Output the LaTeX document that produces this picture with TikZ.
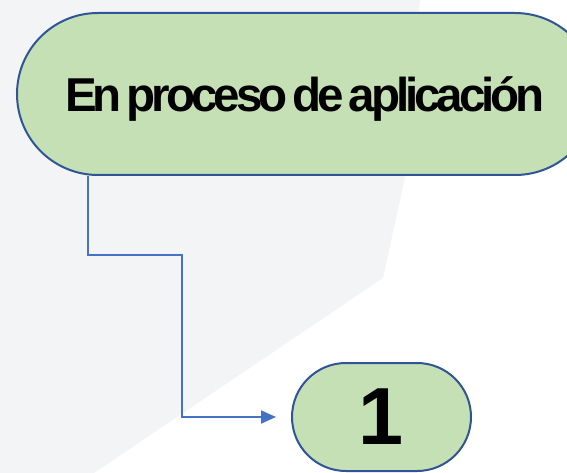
\documentclass[tikz,border=0pt]{standalone}
\usepackage{fontspec}
\setmainfont{Liberation Sans}
\newfontfamily\tightfont{Liberation Sans}[LetterSpace=-8.5,WordSpace=0.55]
\usetikzlibrary{arrows.meta,shapes.misc}
\definecolor{nodegreen}{RGB}{197,224,180}
\definecolor{nodeborder}{RGB}{47,85,151}
\definecolor{linkblue}{RGB}{68,114,196}
\definecolor{bggray}{RGB}{243,244,246}
\begin{document}
\begin{tikzpicture}[x=1pt,y=1pt,
  pill/.style={rounded rectangle, draw=nodeborder, fill=nodegreen, line width=2pt, inner sep=0pt},
  link/.style={draw=linkblue, line width=1.8pt, -{Triangle[length=15pt,width=13pt]}},
  bigtext/.style={font=\tightfont\bfseries\fontsize{47.5}{56}\selectfont, text=black, inner sep=0pt}]
\useasboundingbox (0,0) rectangle (567,-473);
\clip (0,0) rectangle (567,-473);
\fill[white] (0,0) rectangle (567,-473);
\fill[bggray] (0,0) -- (420,0) -- (405,-177) -- (383,-278) -- (94,-473) -- (0,-473) -- cycle;
\node[pill, minimum width=579pt, minimum height=162pt] (top) at (306.5,-94) {};
\node[bigtext, anchor=base] (toptext) at (305,-112) {En proceso de aplicación};
\node[pill, minimum width=179pt, minimum height=108pt, font=\bfseries\fontsize{81}{90}\selectfont] (bot) at (381.5,-417) {1};
\coordinate (bend) at (182,-255);
\draw[link] ([xshift=-218.5pt]top.south) |- (bend) |- ([xshift=-15pt]bot.west);
\end{tikzpicture}
\end{document}
